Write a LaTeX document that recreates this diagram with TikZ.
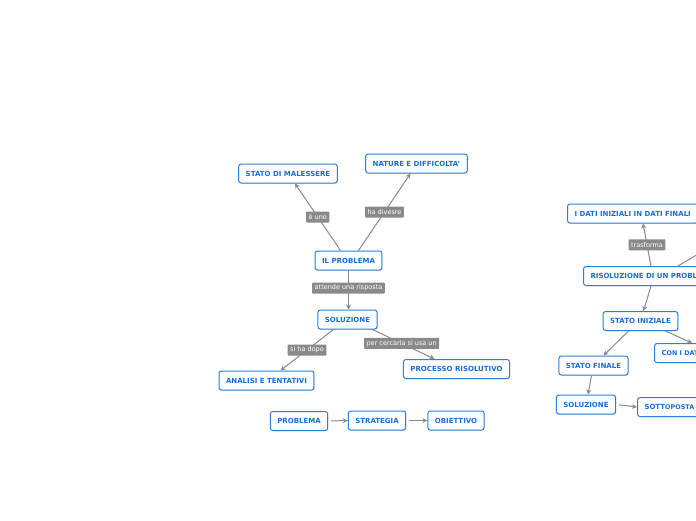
\documentclass[tikz,border=0pt]{standalone}
\usepackage{fontspec}
\setmainfont{DejaVu Sans}
\usetikzlibrary{arrows.meta,shadows}
\definecolor{boxblue}{HTML}{2B7FE0}
\definecolor{textblue}{HTML}{1A6ED8}
\definecolor{linkgrey}{HTML}{8A8A8A}
\begin{document}
\begin{tikzpicture}[x=1pt,y=-1pt,
  concept/.style={draw=boxblue, line width=1pt, fill=white, rounded corners=2.5pt,
    text=textblue, font=\fontsize{7}{8}\selectfont\bfseries,
    minimum height=19pt, inner xsep=7pt, inner ysep=0pt,
    drop shadow={opacity=0.2, shadow xshift=0.6pt, shadow yshift=-0.9pt}},
  linklabel/.style={fill=linkgrey, text=white, font=\fontsize{6.5}{7}\selectfont,
    inner xsep=2.5pt, inner ysep=0pt, minimum height=11pt, rounded corners=0.8pt},
  link/.style={draw=linkgrey, line width=1pt, -{Stealth[length=5pt,width=5pt]}}]
% white page
\fill[white] (0,0) rectangle (696,520);
\useasboundingbox (0,0) rectangle (696,520);

% draw the concepts of the left map
\node[concept] (malessere) at (288,173.5) {STATO DI MALESSERE};
\node[concept] (natura) at (416.5,163.5) {NATURE E DIFFICOLTA'};
\node[concept] (problema) at (348.5,260.5) {IL PROBLEMA};
\node[concept] (soluzione) at (347.5,319.5) {SOLUZIONE};
\node[concept] (analisi) at (266.5,380.5) {ANALISI E TENTATIVI};
\node[concept] (processo) at (456.5,369) {PROCESSO RISOLUTIVO};

% draw the links with their labels
\draw[link] ([xshift=-8pt]problema.north) -- node[linklabel] (euno) {è uno} ([xshift=7pt]malessere.south);
\draw[link] ([xshift=10pt]problema.north) -- node[linklabel] (hadiverse) {ha divesre} ([xshift=-6pt]natura.south);
\draw[link] (problema.south) -- node[linklabel, pos=0.45] (attende) {attende una risposta} (problema.south |- soluzione.north);
\draw[link] ([xshift=-14pt]soluzione.south) -- node[linklabel] (sihadopo) {si ha dopo} ([xshift=14pt]analisi.north);
\draw[link] ([xshift=25pt]soluzione.south) -- node[linklabel, pos=0.47] (percercarla) {per cercarla si usa un} ([xshift=-22pt]processo.north);

% draw the chain at the bottom
\node[concept] (pbm) at (299,421) {PROBLEMA};
\node[concept] (strategia) at (377,420.5) {STRATEGIA};
\node[concept] (obiettivo) at (456,420.5) {OBIETTIVO};
\draw[link, shorten <=3pt] (pbm.east) -- (strategia.west);
\draw[link, shorten <=3pt] (strategia.east) -- (obiettivo.west);

% draw the concepts of the right map
\node[concept, anchor=west] (dati) at (567,213.5) {I DATI INIZIALI IN DATI FINALI};
\node[concept, anchor=west] (risoluzione) at (583,276) {RISOLUZIONE DI UN PROBLEMA};
\node[concept] (iniziale) at (640.5,321) {STATO INIZIALE};
\node[concept, anchor=west] (condati) at (654,353) {C{\fontsize{6.4}{7}\selectfont ON I DATI}};
\node[concept] (finale) at (593.5,365.5) {STATO FINALE};
\node[concept] (soluzioneb) at (586,404.5) {SOLUZIONE};
\node[concept, anchor=west] (sottoposta) at (637,407) {SOTT{\fontsize{6.4}{7}\selectfont OPOSTA}};
\coordinate (fuori) at (722,240);

% draw the links of the right map
\draw[link] ([xshift=68pt]risoluzione.north west) -- node[linklabel] (trasforma) {trasforma} ([xshift=76pt]dati.south west);
\draw[link] ([xshift=95pt]risoluzione.north west) -- (fuori);
\draw[link] ([xshift=68pt]risoluzione.south west) -- ([xshift=3pt]iniziale.north);
\draw[link] ([xshift=-12pt]iniziale.south) -- ([xshift=10pt]finale.north);
\draw[link] ([xshift=25pt]iniziale.south) -- ([xshift=38pt]condati.north west);
\draw[link] ([xshift=-2pt]finale.south) -- ([xshift=2pt]soluzioneb.north);
\draw[link, shorten <=3pt] (soluzioneb.east) -- (sottoposta.west);
\end{tikzpicture}
\end{document}
